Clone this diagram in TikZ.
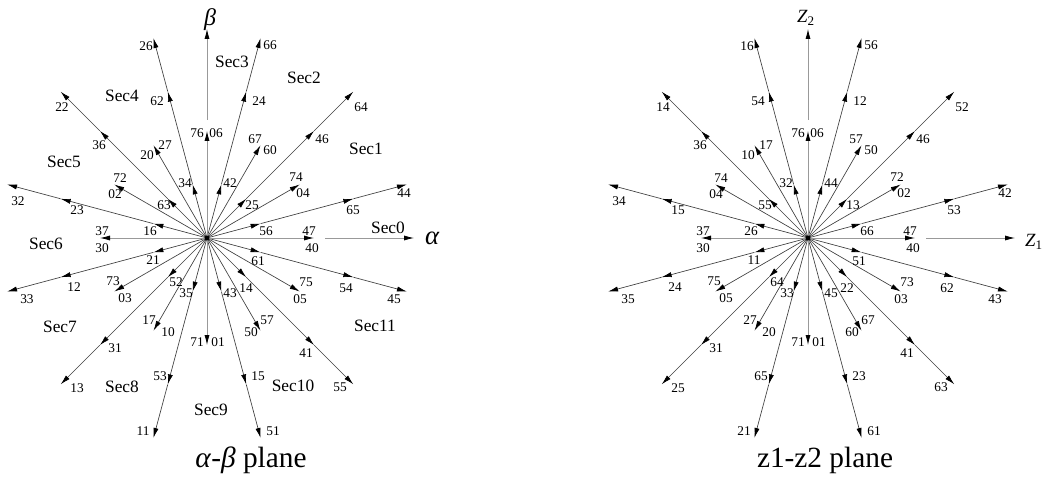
\documentclass[tikz,border=0pt]{standalone}
\usepackage{fontspec}
\setmainfont{Liberation Serif}
\usetikzlibrary{arrows.meta,calc}

\begin{document}
\begin{tikzpicture}[x=0.75pt,y=0.75pt,
  ray/.style={draw=black!75, line width=0.5pt},
  axisline/.style={draw=black!40, line width=0.6pt},
  arr/.style={-{Latex[length=7.5pt,width=3.8pt,color=black]}},
  num/.style={font=\fontsize{10}{10}\selectfont, inner sep=0pt},
  sec/.style={font=\fontsize{13}{13}\selectfont, inner sep=0pt},
  ttl/.style={font=\fontsize{22}{22}\selectfont, inner sep=0pt, anchor=base}]
\useasboundingbox (0,0) rectangle (1046,479);

% origins of the two vector planes
\coordinate (OA) at (207,241);
\coordinate (OB) at (808,241);

\foreach \p in {A,B}{
  % large / medium / small vectors on the 15+30k directions
  \foreach \a in {15,45,...,345}{
    \coordinate (\p s\a) at ($(O\p)+(\a:55.5)$);
    \coordinate (\p m\a) at ($(O\p)+(\a:151.5)$);
    \coordinate (\p l\a) at ($(O\p)+(\a:207)$);
    \draw[ray,arr] (O\p) -- (\p s\a);
    \draw[ray,arr] (\p s\a) -- (\p m\a);
    \draw[ray,arr] (\p m\a) -- (\p l\a);
  }
  % double-state vectors on the 30k directions
  \foreach \a in {30,60,120,150,210,240,300,330}{
    \coordinate (\p z\a) at ($(O\p)+(\a:107)$);
    \draw[ray,arr] (O\p) -- (\p z\a);
  }
  \foreach \a in {0,90,180,270}{
    \coordinate (\p z\a) at ($(O\p)+(\a:107)$);
    \draw[axisline,arr] (O\p) -- (\p z\a);
  }
  % axes
  \coordinate (\p x0) at ($(O\p)+(0:118)$);
  \coordinate (\p x1) at ($(O\p)+(0:207)$);
  \coordinate (\p y0) at ($(O\p)+(90:118)$);
  \coordinate (\p y1) at ($(O\p)+(90:209)$);
  \draw[axisline,arr] (\p x0) -- (\p x1);
  \draw[axisline,arr] (\p y0) -- (\p y1);
  \fill (O\p) circle (2.4);
}

% switching-state labels: offset / left plane / right plane
\foreach \dx/\dy/\ta/\tb in {
  59/7/56/66, 146/28/65/53, 197/45/44/42,
  45/33/25/13, 115/99/46/46, 154/131/64/52,
  23/55/42/44, 52/137/24/12, 63/193/66/56,
  -22/55/34/32, -50/137/62/54, -61/192/26/16,
  -43/33/63/55, -108/93/36/36, -145/131/22/14,
  -57/7/16/26, -130/28/23/15, -189/37/32/34,
  -54/-22/21/11, -133/-49/12/24, -180/-61/33/35,
  -31/-44/52/64, -92/-110/31/31, -130/-150/13/25,
  -21/-55/35/33, -47/-138/53/65, -64/-193/11/21,
  23/-55/43/45, 51/-138/15/23, 66/-193/51/61,
  39/-50/14/22, 99/-115/41/41, 133/-149/55/63,
  51/-23/61/51, 139/-50/54/62, 187/-61/45/43,
  102/7/47/47, 105/-10/40/40,
  89/61/74/72, 96/45/04/02,
  48/99/67/57, 63/88/60/50,
  -10/105/76/76, 9/105/06/06,
  -42/93/27/17, -60/83/20/10,
  -87/60/72/74, -92/44/02/04,
  -105/7/37/37, -105/-10/30/30,
  -94/-43/73/75, -82/-60/03/05,
  -58/-82/17/27, -39/-94/10/20,
  -10/-104/71/71, 11/-104/01/01,
  60/-82/57/67, 44/-94/50/60,
  99/-44/75/73, 93/-61/05/03}{
  \node[num] (A\ta) at ($(OA)+(\dx,\dy)$) {\ta};
  \node[num] (B\tb) at ($(OB)+(\dx,\dy)$) {\tb};
}

% sector names
\foreach \n/\dx/\dy in {0/181/10, 1/159/89, 2/97/160, 3/25/176,
  4/-85/142, 5/-143/76, 6/-161/-6, 7/-147/-89, 8/-85/-149,
  9/4/-172, 10/86/-148, 11/168/-88}{
  \node[sec] (sec\n) at ($(OA)+(\dx,\dy)$) {Sec\n};
}

% axis names
\node[font=\fontsize{20}{20}\selectfont\itshape, inner sep=0pt] (alpha) at (432,241) {α};
\node[font=\fontsize{18}{18}\selectfont\itshape, inner sep=0pt] (beta) at (210,459) {β};
\node[font=\fontsize{14}{14}\selectfont, inner sep=0pt] (z1) at (1034,237) {\textit{Z}\textsubscript{1}};
\node[font=\fontsize{14}{14}\selectfont, inner sep=0pt] (z2) at (806,461) {\textit{Z}\textsubscript{2}};

% plane titles
\node[ttl] (titleA) at (251,12) {\textit{α}-\textit{β} plane};
\node[ttl] (titleB) at (825,12) {z1-z2 plane};
\end{tikzpicture}
\end{document}
